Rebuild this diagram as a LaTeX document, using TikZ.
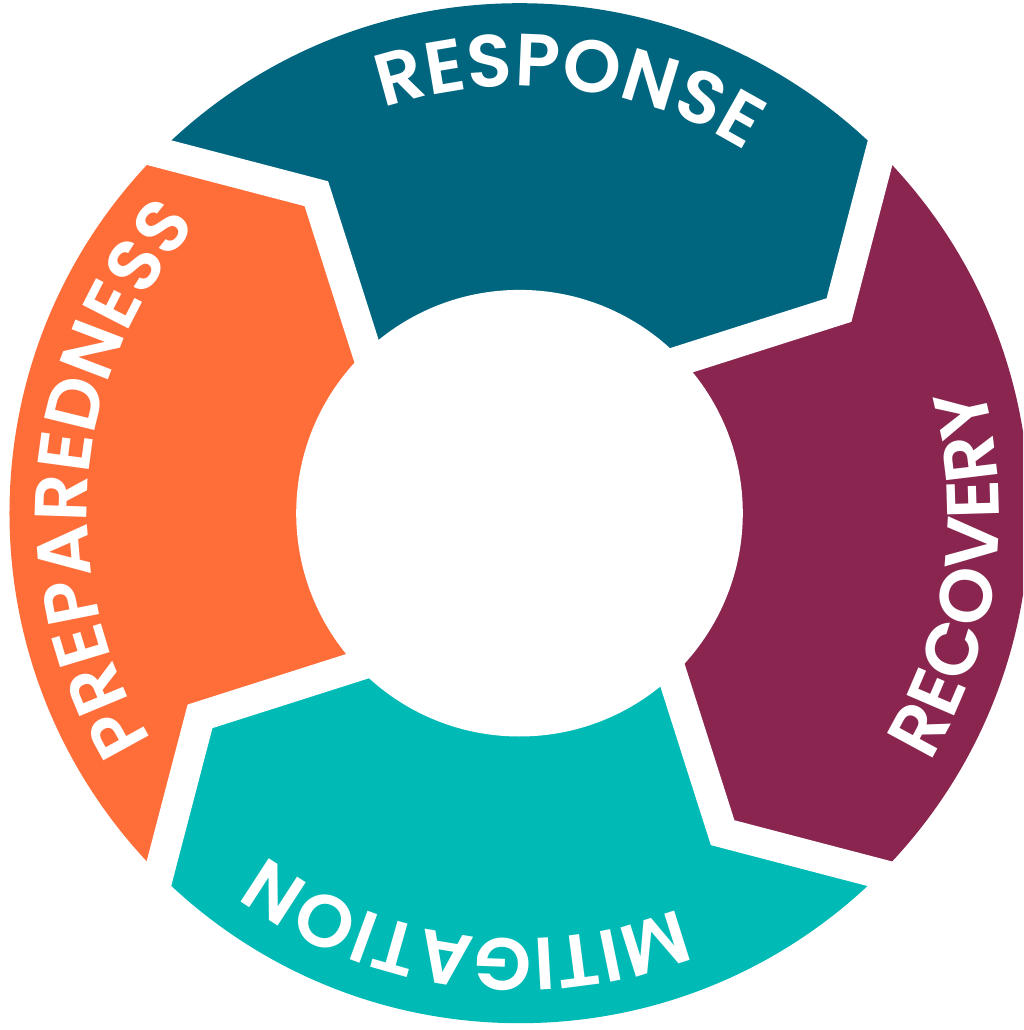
\documentclass[tikz,border=0pt]{standalone}
\usepackage{fontspec}
\setmainfont{Poppins}
\IfFontExistsTF{Poppins SemiBold}
  {\newfontfamily\labf{Poppins SemiBold}}
  {\newfontfamily\labf{Poppins}[UprightFont={* Bold}]}
\usetikzlibrary{calc,decorations.text}
\definecolor{cResp}{HTML}{006680}
\definecolor{cReco}{HTML}{89254F}
\definecolor{cMiti}{HTML}{00BAB6}
\definecolor{cPrep}{HTML}{FF6D39}
\newcommand\labfont{\labf\fontsize{74}{80}\selectfont}
\tikzset{
  gapline/.style={white, line width=30pt, line join=miter},
  arclabel/.style={decorate, decoration={text along path, text color=white,
      text align=fit to path, text={|\labfont|#1}}}
}
\begin{document}
\begin{tikzpicture}[x=1pt,y=1pt]
\useasboundingbox (-519.5,-516.8) rectangle (503.5,513.2);
\clip (-519.5,-516.8) rectangle (503.5,513.2);
\def\Ro{510}\def\Ri{223.3}\def\Rm{378.6}
\foreach \n/\t in {A/135,B/45,C/-45,D/-135}{
  \coordinate (O\n) at (\t:\Ro);
  \coordinate (M\n) at (\t-12.55:\Rm);
  \coordinate (I\n) at (\t-1.7:\Ri);
  \coordinate (OX\n) at ($(M\n)!1.35!(O\n)$);
  \coordinate (IX\n) at ($(M\n)!1.35!(I\n)$);
}
\begin{scope}
  \clip (0,0) circle (\Ro);
  \foreach \s/\e/\a/\c in {A/B/135/cResp, B/C/45/cReco, C/D/-45/cMiti, D/A/-135/cPrep}{
    \fill[\c] (OX\s) -- (M\s) -- (IX\s) -- (0,0) -- (IX\e) -- (M\e) -- (OX\e)
      -- (\a-67.5:900) -- (\a-45:900) -- (\a-22.5:900) -- cycle;
  }
\end{scope}
\fill[white] (0,0) circle (\Ri);
\foreach \n in {A,B,C,D}{
  \draw[gapline] (OX\n) -- (M\n) -- (IX\n);
}
\path[arclabel=RESPONSE] (108.6:427) arc[start angle=108.6, end angle=58, radius=427];
\path[arclabel=RECOVERY] (-31.3:480) arc[start angle=-31.3, end angle=15.4, radius=480];
\path[arclabel=MITIGATION] (-68:426) arc[start angle=-68, end angle=-124.2, radius=426];
\path[arclabel=PREPAREDNESS] (-148.3:432) arc[start angle=-148.3, end angle=-220.8, radius=432];
\end{tikzpicture}
\end{document}
